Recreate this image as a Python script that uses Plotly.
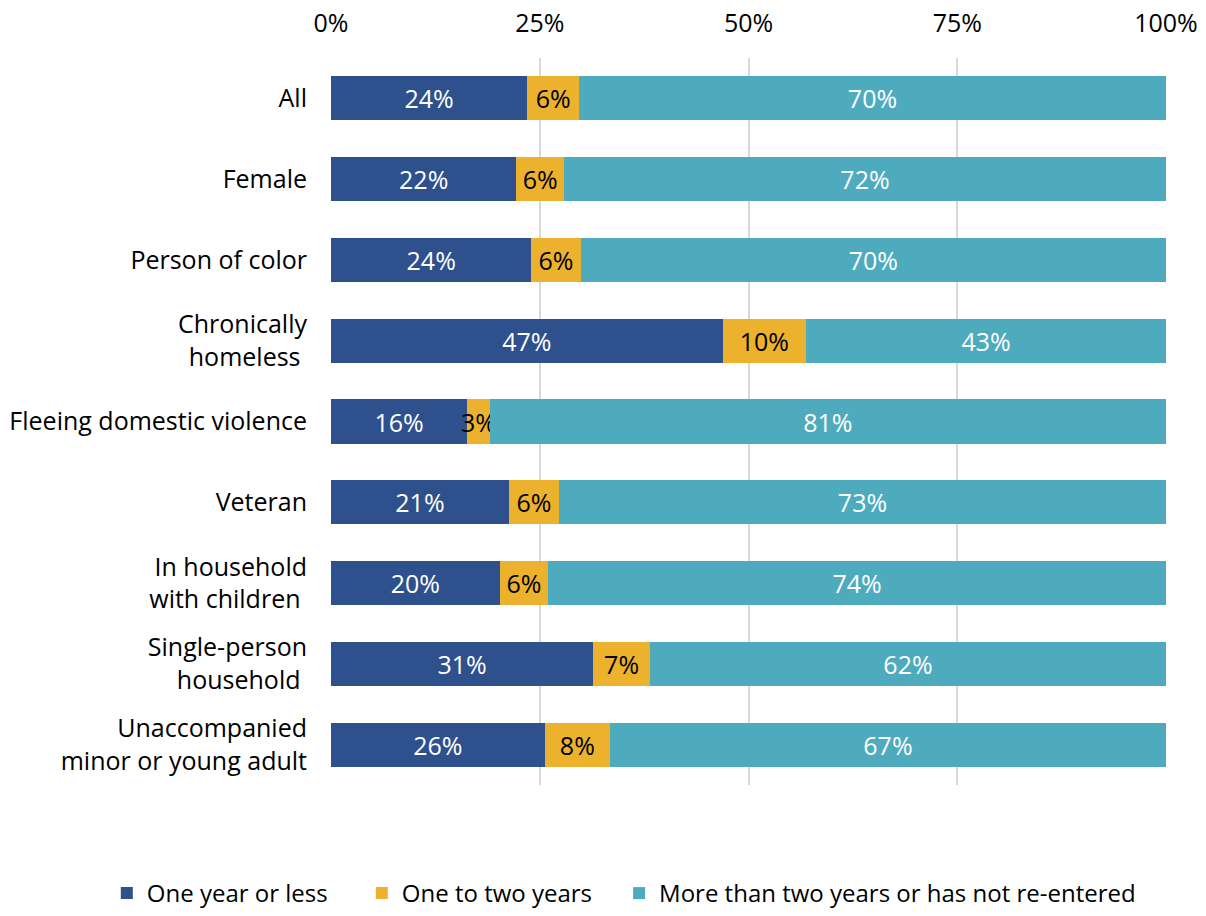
import plotly.graph_objects as go

categories = [
    "All",
    "Female",
    "Person of color",
    "Chronically<br>homeless ",
    "Fleeing domestic violence",
    "Veteran",
    "In household<br>with children ",
    "Single-person<br>household ",
    "Unaccompanied<br>minor or young adult",
]

one_year_or_less = [23.5, 22.2, 24.0, 46.9, 16.3, 21.3, 20.2, 31.4, 25.6]
one_to_two_years = [6.2, 5.7, 5.9, 10.0, 2.7, 6.0, 5.8, 6.8, 7.8]
more_than_two = [70.3, 72.1, 70.1, 43.1, 81.0, 72.7, 74.0, 61.8, 66.6]

series_names = ["One year or less", "One to two years",
                "More than two years or has not re-entered"]
colors = ["#2E508C", "#ECB22E", "#4EABBE"]
text_colors = ["white", "black", "white"]
legend_ids = ["legend", "legend", "legend2"]

tick_vals = [0, 25, 50, 75, 100]
tick_text = ["0%", "25%", "50%", "75%", "100%"]

FONT = "Open Sans"
FS = 25

fig = go.Figure()
for name, vals, col, tcol, lg in zip(series_names,
                                     [one_year_or_less, one_to_two_years, more_than_two],
                                     colors, text_colors, legend_ids):
    fig.add_trace(go.Bar(
        y=categories, x=vals, name=name, orientation="h", legend=lg,
        marker=dict(color=col, line=dict(width=0)),
        texttemplate="%{x:.0f}%", textposition="inside", textangle=0,
        insidetextanchor="middle", constraintext="none",
        textfont=dict(color=tcol, size=FS, family=FONT),
        cliponaxis=False,
    ))

legend_common = dict(
    orientation="h", yref="container", y=0.0, yanchor="bottom",
    font=dict(size=24, family=FONT), itemwidth=30, traceorder="normal",
    bgcolor="rgba(0,0,0,0)",
)

fig.update_layout(
    barmode="stack",
    bargap=0.455,
    width=1206, height=916,
    margin=dict(l=331, r=40, t=58, b=131, autoexpand=False),
    paper_bgcolor="white", plot_bgcolor="white",
    font=dict(family=FONT, size=FS, color="black"),
    legend=dict(x=-0.2685, xref="paper", xanchor="left",
                entrywidthmode="pixels", entrywidth=210, **legend_common),
    legend2=dict(x=0.345, xref="paper", xanchor="left", **legend_common),
    xaxis=dict(
        side="top", range=[0, 100], tickvals=tick_vals, ticktext=tick_text,
        showgrid=True, gridcolor="#D9D9D9", gridwidth=2,
        zeroline=False, showline=False, ticks="", automargin=False,
        tickfont=dict(size=FS, family=FONT), ticklabelstandoff=20,
    ),
    yaxis=dict(
        autorange="reversed", showgrid=False, zeroline=False,
        showline=False, ticks="", ticklabelstandoff=23, automargin=False,
        tickfont=dict(size=FS, family=FONT),
    ),
)

fig.write_html("out.html")
